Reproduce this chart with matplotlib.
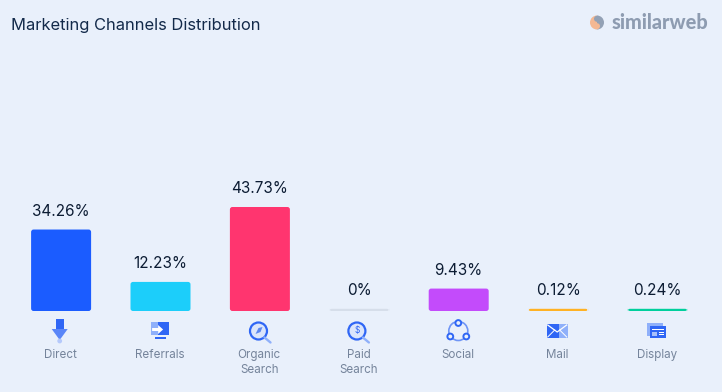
import numpy as np
import matplotlib
matplotlib.use("Agg")
import matplotlib.pyplot as plt
from matplotlib.patches import FancyBboxPatch, Circle, Polygon, Rectangle, Wedge

channels = ["Direct", "Referrals", "Organic\nSearch", "Paid\nSearch", "Social", "Mail", "Display"]
shares = [34.26, 12.23, 43.73, 0, 9.43, 0.12, 0.24]
share_labels = ["34.26%", "12.23%", "43.73%", "0%", "9.43%", "0.12%", "0.24%"]
colors = ["#1b5cff", "#1ccefa", "#ff356f", "#d6deea", "#c34bfb", "#ffb224", "#00cf9c"]

BG = "#e9f0fb"
W, H = 722, 392
X0, DX = 61.1, 99.4     # pixels: centre of first bar, step between bars
BASE = 311              # pixel row of the bars' base
PX_PER_PCT = 104 / 43.73
BAR_W = 60 / DX
MIN_H = 2.2 / PX_PER_PCT
BLUE = "#2f66f5"
LIGHT = "#8fb0fa"

plt.rcParams["font.family"] = ["Inter", "DejaVu Sans"]

fig = plt.figure(figsize=(W / 100, H / 100), dpi=100, facecolor=BG)

# axes for the bars: x in categories, y in percent
ax = fig.add_axes([0, (H - BASE) / H, 1, BASE / H])
ax.set_xlim(-X0 / DX, (W - X0) / DX)
ax.set_ylim(0, BASE / PX_PER_PCT)
ax.axis("off")

for i, v in enumerate(shares):
    h = max(v, MIN_H)
    ax.add_patch(FancyBboxPatch((i - BAR_W / 2, 0), BAR_W, h,
                                boxstyle="round,pad=0,rounding_size=%f" % (2.5 / DX),
                                mutation_aspect=DX / PX_PER_PCT,
                                fc=colors[i], ec="none"))
    ax.annotate(share_labels[i], (i, h), xytext=(0, 7.6), textcoords="offset points",
                ha="center", va="bottom", fontsize=11.0, color="#0c1c33")

# overlay in pixel coordinates for title, logo, icons
ov = fig.add_axes([0, 0, 1, 1])
ov.set_xlim(0, W)
ov.set_ylim(H, 0)
ov.axis("off")

ov.text(11, 25, "Marketing Channels Distribution", fontsize=11.9, color="#132a4a", va="center")

# logo
ov.add_patch(Wedge((597, 22.5), 7, 90, 270, fc="#f4b893", ec="none"))
ov.add_patch(Wedge((597, 22.5), 7, 270, 90, fc="#93a1b5", ec="none"))
ov.add_patch(Circle((597, 18.8), 3.0, fc="#93a1b5", ec="none"))
ov.add_patch(Circle((597, 26.2), 3.0, fc="#f4b893", ec="none"))
ov.text(612, 22, "similarweb", fontsize=14.3, fontweight="black", color="#8e9cb1",
        family=["Lato", "DejaVu Sans"], va="center")

for i, name in enumerate(channels):
    ov.text(X0 + DX * i - 0.6, 349, name, fontsize=8.35, color="#75849b", ha="center", va="top",
            linespacing=1.32)


def cx(i):
    return X0 + DX * i - 1.4


# Direct: arrow down, fading towards the tip
c = cx(0)
ov.add_patch(Rectangle((c - 4, 319), 8, 13, fc=BLUE, ec="none"))
ov.add_patch(Polygon([(c - 8, 329), (c + 8, 329), (c, 340)], fc="#5a86f8", ec="none"))
ov.add_patch(Circle((c, 341), 2.4, fc="#b5c9fb", ec="none"))

# Referrals: screen with arrow
c = cx(1) + 1
ov.add_patch(Rectangle((c - 9, 322), 18, 13, fc=BLUE, ec="none"))
ov.add_patch(Rectangle((c - 9, 322), 7, 13, fc=LIGHT, ec="none"))
ov.add_patch(Rectangle((c - 5, 337), 11, 2, fc=BLUE, ec="none"))
ov.add_patch(Polygon([(c - 8, 328), (c - 2, 328), (c - 2, 325), (c + 3, 329.5), (c - 2, 334),
                      (c - 2, 331), (c - 8, 331)], fc="white", ec="none"))


def magnifier(c, r=8.5, y=331):
    ov.add_patch(Circle((c - 1, y), r, fc="#dbe5fb", ec=BLUE, lw=1.6))
    ov.plot([c + 5, c + 11], [y + 6.5, y + 11.5], color=LIGHT, lw=1.7, solid_capstyle="round")


# Organic Search
c = cx(2) + 1
magnifier(c)
ov.add_patch(Polygon([(c - 4, 334), (c - 1, 328), (c + 3, 327), (c + 1, 332)], fc="#5d87ef", ec="none"))

# Paid Search
c = cx(3)
magnifier(c)
ov.text(c - 1, 331, "$", fontsize=6, color=BLUE, ha="center", va="center")

# Social: three linked nodes
c = cx(4) + 1
ov.add_patch(Circle((c, 331), 9.5, fc="none", ec="#6f95f6", lw=1.2))
for dx, dy in [(0, -8), (-8, 5.5), (8, 5.5)]:
    ov.add_patch(Circle((c + dx, 331 + dy), 2.9, fc=BG, ec=BLUE, lw=1.4))

# Mail
c = cx(5) + 1
ov.add_patch(Rectangle((c - 11, 324), 21, 14, fc=BLUE, ec="none"))
ov.add_patch(Rectangle((c + 1, 324), 9, 14, fc=LIGHT, ec="none"))
ov.plot([c - 10, c - 0.5, c + 9], [325, 332, 325], color="white", lw=0.9)
ov.plot([c - 10, c - 3], [337, 330], color="white", lw=0.7)
ov.plot([c + 2, c + 9], [330, 337], color="white", lw=0.7)

# Display
c = cx(6) + 1
ov.add_patch(Rectangle((c - 10, 323), 16, 13, fc=LIGHT, ec="none"))
ov.add_patch(Rectangle((c - 7, 326), 16, 12, fc=BLUE, ec="none"))
ov.add_patch(Rectangle((c - 5, 329), 12, 1, fc="white", ec="none"))
ov.add_patch(Rectangle((c - 5, 331.5), 5, 4.5, fc="#a9c1fa", ec="none"))
ov.add_patch(Rectangle((c + 1.5, 331.5), 5.5, 1, fc="white", ec="none"))
ov.add_patch(Rectangle((c + 1.5, 334), 5.5, 1, fc="white", ec="none"))

fig.savefig("out.png", dpi=100, facecolor=BG)
